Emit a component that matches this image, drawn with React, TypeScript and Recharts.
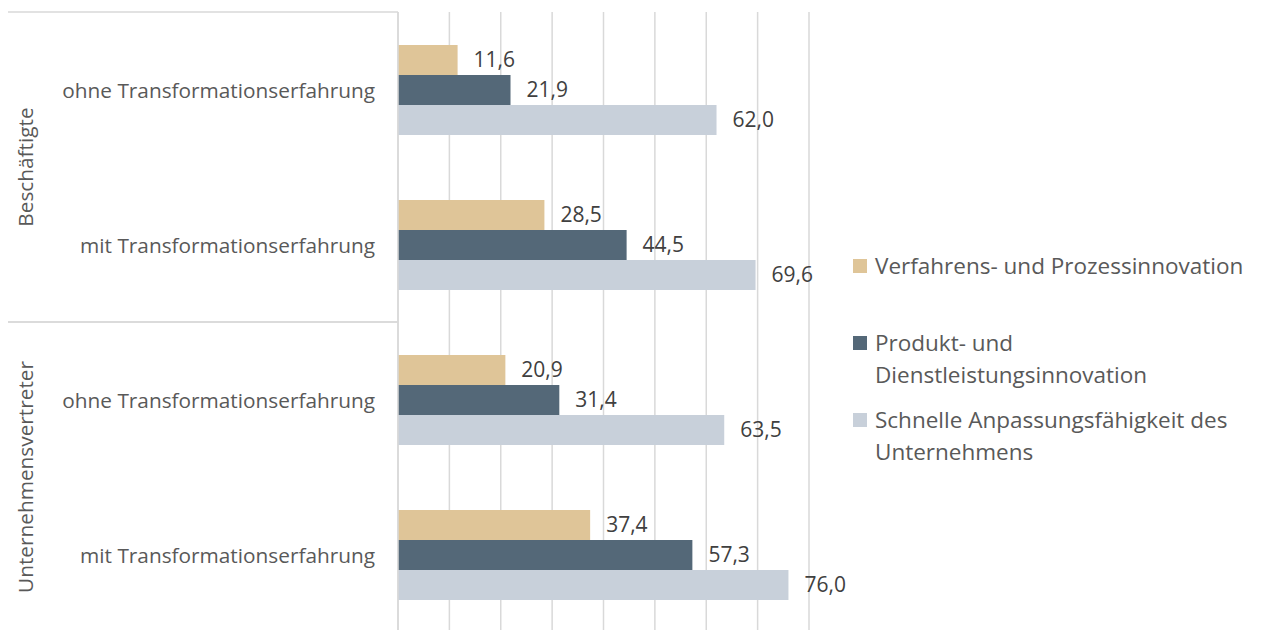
import React from 'react';
import { BarChart, Bar, XAxis, YAxis, CartesianGrid, LabelList } from 'recharts';

const groups = ['Beschäftigte', 'Beschäftigte', 'Unternehmensvertreter', 'Unternehmensvertreter'];
const categories = [
  'ohne Transformationserfahrung',
  'mit Transformationserfahrung',
  'ohne Transformationserfahrung',
  'mit Transformationserfahrung',
];
const verfahren = [11.6, 28.5, 20.9, 37.4];
const produkt = [21.9, 44.5, 31.4, 57.3];
const anpassung = [62.0, 69.6, 63.5, 76.0];
const seriesNames = [
  'Verfahrens- und Prozessinnovation',
  'Produkt- und Dienstleistungsinnovation',
  'Schnelle Anpassungsfähigkeit des Unternehmens',
];
const seriesColors = ['#DFC598', '#546878', '#C8D0DA'];
const xTicks = [0, 10, 20, 30, 40, 50, 60, 70, 80];

const data = categories.map((c, i) => ({
  key: `${groups[i]}|${c}|${i}`,
  v: verfahren[i],
  p: produkt[i],
  a: anpassung[i],
}));

const FONT = '"Open Sans", "Noto Sans", sans-serif';
const W = 1262;
const H = 640;
const M_TOP = 12;
const M_BOTTOM = 8;
const AXIS_W = 398;
const PLOT_H = H - M_TOP - M_BOTTOM;
const BAND = PLOT_H / categories.length;
const LINE_COLOR = '#D9D9D9';

const fmt = (v: any) => Number(v).toFixed(1).replace('.', ',');

const EmptyTick = () => <g />;

const CatTick = (props: any) => {
  const { x, y, payload } = props;
  const parts = String(payload.value).split('|');
  const grp = parts[0];
  const cat = parts[1];
  const i = Number(parts[2]);
  const first = i === 0 || groups[i - 1] !== grp;
  const last = i === groups.length - 1 || groups[i + 1] !== grp;
  let n = 0;
  for (let k = 0; k < groups.length; k++) if (groups[k] === grp) n++;
  const gy = y - ((n - 1) * BAND) / 2;
  return (
    <g>
      <text
        x={x - 23}
        y={y}
        textAnchor="end"
        dominantBaseline="central"
        fill="#595959"
        fontSize={20.8}
        fontFamily={FONT}
      >
        {cat}
      </text>
      {first && (
        <line x1={8} x2={AXIS_W} y1={y - BAND / 2} y2={y - BAND / 2} stroke={LINE_COLOR} strokeWidth={1.5} />
      )}
      {last && (
        <line x1={8} x2={AXIS_W} y1={y + BAND / 2} y2={y + BAND / 2} stroke={LINE_COLOR} strokeWidth={1.5} />
      )}
      {last && (
        <text
          x={25}
          y={gy}
          textAnchor="middle"
          dominantBaseline="central"
          transform={`rotate(-90, 25, ${gy})`}
          fill="#595959"
          fontSize={20.8}
          fontFamily={FONT}
        >
          {grp}
        </text>
      )}
    </g>
  );
};

const LegendBox = () => (
  <div style={{ position: 'absolute', left: 853, top: 250, width: 409, fontFamily: FONT }}>
    {seriesNames.map((name, idx) => (
      <div key={idx} style={{ display: 'flex', alignItems: 'flex-start', height: 77 }}>
        <div
          style={{
            width: 14,
            height: 14,
            marginTop: 9,
            marginRight: 8,
            background: seriesColors[idx],
            flex: '0 0 auto',
          }}
        />
        <div style={{ fontSize: 22.5, lineHeight: '32px', color: '#595959', width: 385 }}>{name}</div>
      </div>
    ))}
  </div>
);

export default function App() {
  return (
    <div
      style={{
        position: 'absolute',
        left: 0,
        top: 0,
        width: W,
        height: 630,
        overflow: 'hidden',
        background: '#fff',
        fontFamily: FONT,
      }}
    >
      <BarChart
        width={W}
        height={H}
        data={data}
        layout="vertical"
        margin={{ top: M_TOP, right: 453, bottom: M_BOTTOM, left: 0 }}
        barGap={0}
        style={{ fontFamily: FONT }}
      >
        <CartesianGrid horizontal={false} vertical={true} stroke={LINE_COLOR} strokeWidth={1.5} />
        <XAxis
          type="number"
          domain={[0, 80]}
          ticks={xTicks}
          interval={0}
          tick={<EmptyTick />}
          tickLine={false}
          axisLine={false}
          height={0}
        />
        <YAxis
          type="category"
          dataKey="key"
          width={AXIS_W}
          tick={<CatTick />}
          tickLine={false}
          tickSize={0}
          tickMargin={0}
          axisLine={{ stroke: LINE_COLOR, strokeWidth: 1.5 }}
          interval={0}
        />
        <Bar dataKey="v" name={seriesNames[0]} fill={seriesColors[0]} barSize={30} isAnimationActive={false}>
          <LabelList dataKey="v" position="right" offset={16} fill="#404040" fontSize={21} fontFamily={FONT} formatter={fmt} />
        </Bar>
        <Bar dataKey="p" name={seriesNames[1]} fill={seriesColors[1]} barSize={30} isAnimationActive={false}>
          <LabelList dataKey="p" position="right" offset={16} fill="#404040" fontSize={21} fontFamily={FONT} formatter={fmt} />
        </Bar>
        <Bar dataKey="a" name={seriesNames[2]} fill={seriesColors[2]} barSize={30} isAnimationActive={false}>
          <LabelList dataKey="a" position="right" offset={16} fill="#404040" fontSize={21} fontFamily={FONT} formatter={fmt} />
        </Bar>
      </BarChart>
      <LegendBox />
    </div>
  );
}
